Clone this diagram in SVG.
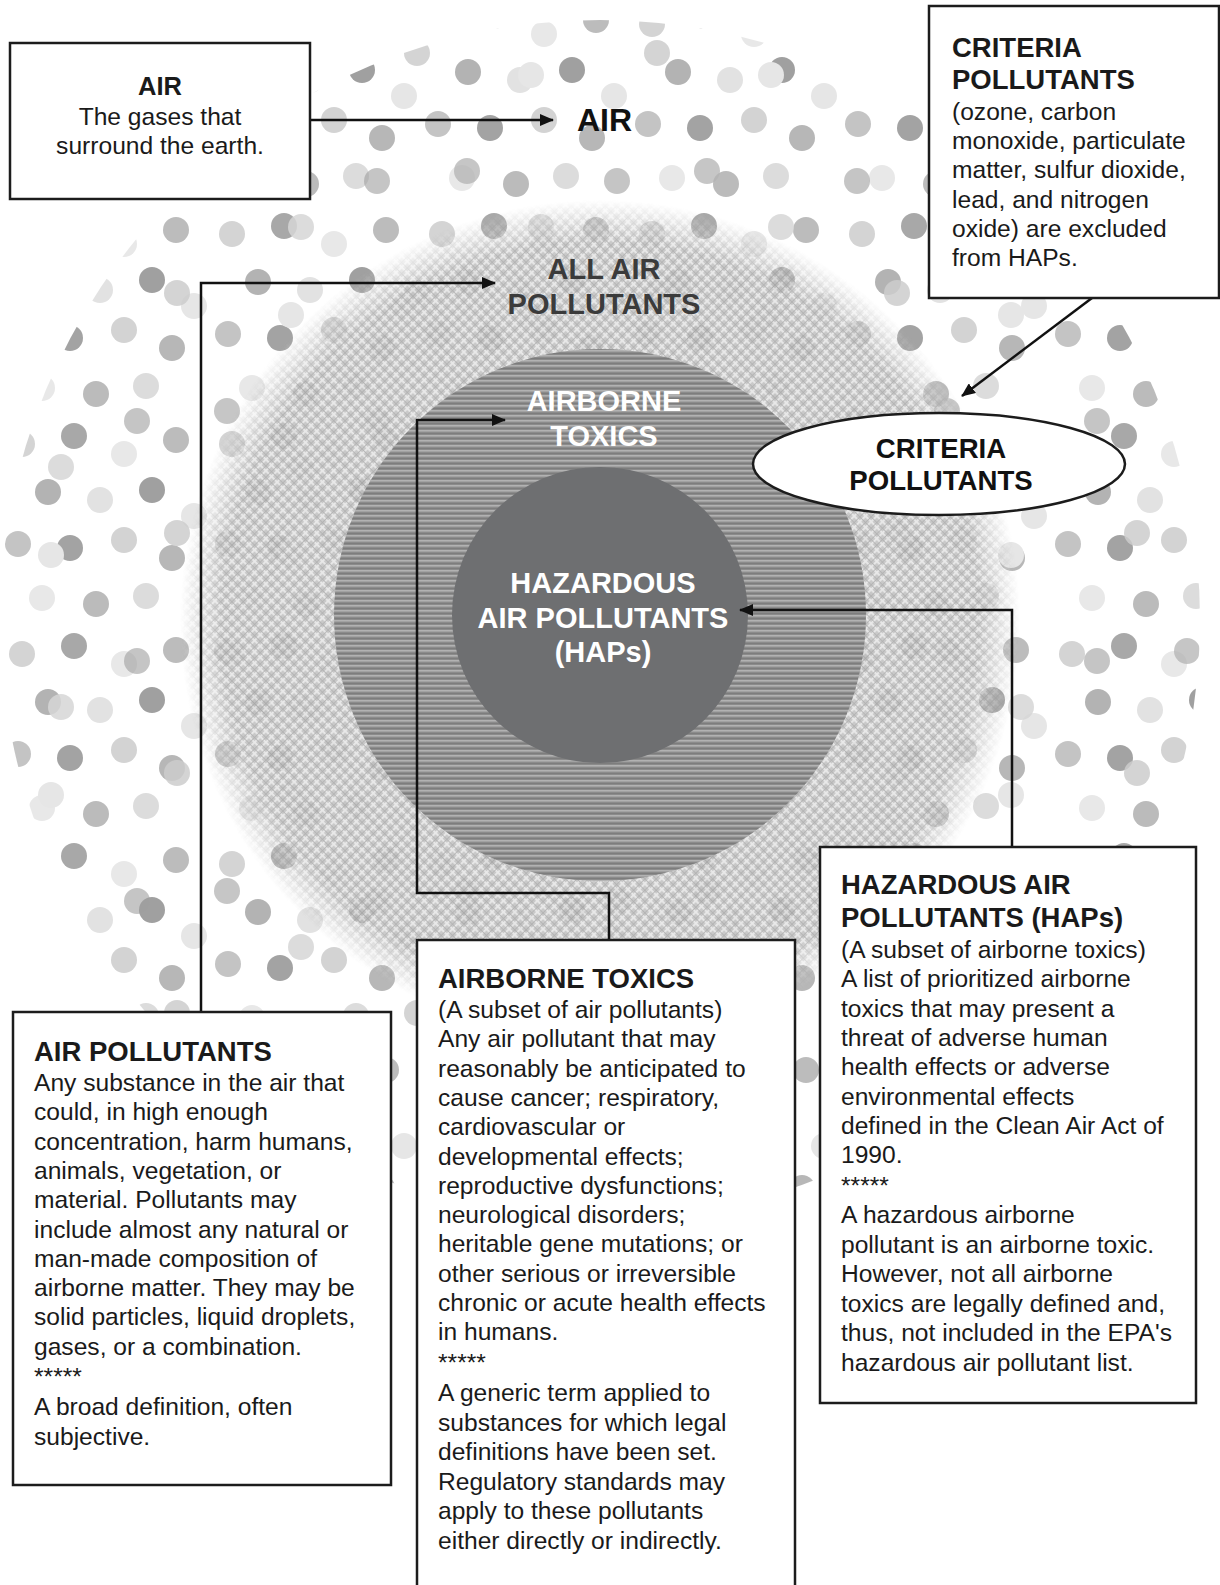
<svg xmlns="http://www.w3.org/2000/svg" width="1220" height="1585" viewBox="0 0 1220 1585">
<style>
.box{fill:#fff;stroke:#1c1c1c;stroke-width:2.5}
.t{font-family:"Liberation Sans",Arial,Helvetica,sans-serif;font-size:24.6px;fill:#1a1a1a}
.h{font-weight:bold;font-size:27.5px}
.lbl{font-family:"Liberation Sans",Arial,Helvetica,sans-serif;font-weight:bold;font-size:29px;text-anchor:middle}
.conn{fill:none;stroke:#111;stroke-width:2.5}
</style>
<defs>
<pattern id="dotsA" width="210" height="210" patternUnits="userSpaceOnUse">
<circle cx="22" cy="24" r="13" fill="#d4d4d4"/>
<circle cx="74" cy="16" r="13" fill="#a8a8a8"/>
<circle cx="124" cy="34" r="13" fill="#e8e8e8"/>
<circle cx="176" cy="20" r="13" fill="#bcbcbc"/>
<circle cx="48" cy="72" r="13" fill="#b3b3b3"/>
<circle cx="100" cy="80" r="13" fill="#e2e2e2"/>
<circle cx="152" cy="70" r="13" fill="#a0a0a0"/>
<circle cx="194" cy="96" r="13" fill="#e6e6e6"/>
<circle cx="18" cy="124" r="13" fill="#c4c4c4"/>
<circle cx="70" cy="128" r="13" fill="#a3a3a3"/>
<circle cx="124" cy="120" r="13" fill="#d3d3d3"/>
<circle cx="172" cy="138" r="13" fill="#b7b7b7"/>
<circle cx="42" cy="178" r="13" fill="#e8e8e8"/>
<circle cx="96" cy="184" r="13" fill="#bbbbbb"/>
<circle cx="146" cy="176" r="13" fill="#dcdcdc"/>
</pattern>
<pattern id="dotsB" x="17" y="31" width="240" height="240" patternUnits="userSpaceOnUse">
<circle cx="34" cy="44" r="13" fill="#e6e6e6"/>
<circle cx="160" cy="22" r="13" fill="#cdcdcd" fill-opacity="0.85"/>
<circle cx="210" cy="140" r="13" fill="#b2b2b2" fill-opacity="0.75"/>
<circle cx="44" cy="196" r="13" fill="#d6d6d6" fill-opacity="0.85"/>
<circle cx="120" cy="150" r="13" fill="#9e9e9e" fill-opacity="0.6"/>
</pattern>
<pattern id="hatch" width="8" height="8" patternUnits="userSpaceOnUse" patternTransform="rotate(45)">
<rect width="8" height="8" fill="#c2c2c2"/>
<rect width="8" height="1.8" fill="#e6e6e6"/>
<rect width="1.8" height="8" fill="#e6e6e6"/>
<rect y="5" width="8" height="0.8" fill="#a6a6a6"/>
<rect x="5" width="0.8" height="8" fill="#a6a6a6"/>
</pattern>
<pattern id="lines" width="9" height="5" patternUnits="userSpaceOnUse">
<rect width="9" height="5" fill="#8b8b8b"/>
<rect width="9" height="1.6" fill="#b2b2b2"/>
<rect y="3" width="9" height="0.8" fill="#7a7a7a"/>
</pattern>
<radialGradient id="fade" cx="600" cy="620" r="420" gradientUnits="userSpaceOnUse">
<stop offset="0.9" stop-color="#fff"/>
<stop offset="1" stop-color="#000"/>
</radialGradient>
<mask id="fadeMask"><circle cx="600" cy="620" r="420" fill="url(#fade)"/></mask>
<clipPath id="outerClip"><circle cx="600" cy="620" r="600"/></clipPath>
<marker id="arr" viewBox="0 0 14 12" refX="13" refY="6" markerWidth="14" markerHeight="12" markerUnits="userSpaceOnUse" orient="auto">
<path d="M0,0 L14,6 L0,12 z" fill="#111"/>
</marker>
</defs>
<rect width="1220" height="1585" fill="#fff"/>

<g id="air-region" clip-path="url(#outerClip)">
<rect x="0" y="0" width="1220" height="1240" fill="url(#dotsA)"/>
<rect x="0" y="0" width="1220" height="1240" fill="url(#dotsB)"/>
</g>
<g id="all-air-pollutants" mask="url(#fadeMask)">
<circle cx="600" cy="620" r="420" fill="url(#hatch)" fill-opacity="0.88"/>
</g>
<g id="airborne-toxics">
<circle cx="600" cy="615" r="266" fill="url(#lines)"/>
</g>
<g id="haps">
<circle cx="600" cy="615" r="148" fill="#6e6f71"/>
</g>

<g id="region-labels">
<text class="lbl" x="577" y="131" style="text-anchor:start;font-size:32px" fill="#111">AIR</text>
<text class="lbl" fill="#3b3b3b"><tspan x="604" y="279">ALL AIR</tspan><tspan x="604" y="314">POLLUTANTS</tspan></text>
<text class="lbl" fill="#fff"><tspan x="604" y="411">AIRBORNE</tspan><tspan x="604" y="446">TOXICS</tspan></text>
<text class="lbl" fill="#fff"><tspan x="603" y="593">HAZARDOUS</tspan><tspan x="603" y="628">AIR POLLUTANTS</tspan><tspan x="603" y="662">(HAPs)</tspan></text>
</g>

<g id="connectors">
<path class="conn" d="M310,120 H553" marker-end="url(#arr)"/>
<path class="conn" d="M1092,298 L962,396" marker-end="url(#arr)"/>
<path class="conn" d="M201,1012 V283 H495" marker-end="url(#arr)"/>
<path class="conn" d="M609,940 V893 H417 V420 H505" marker-end="url(#arr)"/>
<path class="conn" d="M1012,847 V610 H740" marker-end="url(#arr)"/>
</g>

<g id="node-air">
<rect class="box" x="10" y="43" width="300" height="156"/>
<text class="t" text-anchor="middle"><tspan x="160" y="95" style="font-weight:bold;font-size:25.5px">AIR</tspan><tspan x="160" y="125">The gases that</tspan><tspan x="160" y="154">surround the earth.</tspan></text>
</g>

<g id="node-criteria-box">
<rect class="box" x="929" y="6" width="290" height="292"/>
<text class="t"><tspan class="h" x="952" y="57">CRITERIA</tspan><tspan class="h" x="952" y="89">POLLUTANTS</tspan><tspan x="952" y="120">(ozone, carbon</tspan><tspan x="952" y="149">monoxide, particulate</tspan><tspan x="952" y="178">matter, sulfur dioxide,</tspan><tspan x="952" y="208">lead, and nitrogen</tspan><tspan x="952" y="237">oxide) are excluded</tspan><tspan x="952" y="266">from HAPs.</tspan></text>
</g>

<g id="node-criteria-ellipse">
<ellipse class="box" cx="939" cy="464" rx="186" ry="51"/>
<text class="lbl" fill="#111" style="font-size:27.6px"><tspan x="941" y="458">CRITERIA</tspan><tspan x="941" y="490">POLLUTANTS</tspan></text>
</g>

<g id="node-air-pollutants">
<rect class="box" x="13" y="1012" width="378" height="473"/>
<text class="t"><tspan class="h" x="34" y="1061">AIR POLLUTANTS</tspan><tspan x="34" y="1091">Any substance in the air that</tspan><tspan x="34" y="1120.3">could, in high enough</tspan><tspan x="34" y="1149.6">concentration, harm humans,</tspan><tspan x="34" y="1178.9">animals, vegetation, or</tspan><tspan x="34" y="1208.2">material. Pollutants may</tspan><tspan x="34" y="1237.5">include almost any natural or</tspan><tspan x="34" y="1266.8">man-made composition of</tspan><tspan x="34" y="1296.1">airborne matter. They may be</tspan><tspan x="34" y="1325.4">solid particles, liquid droplets,</tspan><tspan x="34" y="1354.7">gases, or a combination.</tspan><tspan x="34" y="1385">*****</tspan><tspan x="34" y="1415">A broad definition, often</tspan><tspan x="34" y="1444.5">subjective.</tspan></text>
</g>

<g id="node-airborne-toxics">
<rect class="box" x="417" y="940" width="378" height="660"/>
<text class="t"><tspan class="h" x="438" y="988">AIRBORNE TOXICS</tspan><tspan x="438" y="1018">(A subset of air pollutants)</tspan><tspan x="438" y="1047.3">Any air pollutant that may</tspan><tspan x="438" y="1076.6">reasonably be anticipated to</tspan><tspan x="438" y="1105.9">cause cancer; respiratory,</tspan><tspan x="438" y="1135.2">cardiovascular or</tspan><tspan x="438" y="1164.5">developmental effects;</tspan><tspan x="438" y="1193.8">reproductive dysfunctions;</tspan><tspan x="438" y="1223.1">neurological disorders;</tspan><tspan x="438" y="1252.4">heritable gene mutations; or</tspan><tspan x="438" y="1281.7">other serious or irreversible</tspan><tspan x="438" y="1311">chronic or acute health effects</tspan><tspan x="438" y="1340.3">in humans.</tspan><tspan x="438" y="1371">*****</tspan><tspan x="438" y="1401">A generic term applied to</tspan><tspan x="438" y="1430.5">substances for which legal</tspan><tspan x="438" y="1460">definitions have been set.</tspan><tspan x="438" y="1489.5">Regulatory standards may</tspan><tspan x="438" y="1519">apply to these pollutants</tspan><tspan x="438" y="1548.5">either directly or indirectly.</tspan></text>
</g>

<g id="node-haps">
<rect class="box" x="820" y="847" width="376" height="556"/>
<text class="t"><tspan class="h" x="841" y="894">HAZARDOUS AIR</tspan><tspan class="h" x="841" y="927">POLLUTANTS (HAPs)</tspan><tspan x="841" y="958">(A subset of airborne toxics)</tspan><tspan x="841" y="987.3">A list of prioritized airborne</tspan><tspan x="841" y="1016.6">toxics that may present a</tspan><tspan x="841" y="1045.9">threat of adverse human</tspan><tspan x="841" y="1075.2">health effects or adverse</tspan><tspan x="841" y="1104.5">environmental effects</tspan><tspan x="841" y="1133.8">defined in the Clean Air Act of</tspan><tspan x="841" y="1163.1">1990.</tspan><tspan x="841" y="1194">*****</tspan><tspan x="841" y="1223">A hazardous airborne</tspan><tspan x="841" y="1252.5">pollutant is an airborne toxic.</tspan><tspan x="841" y="1282">However, not all airborne</tspan><tspan x="841" y="1311.5">toxics are legally defined and,</tspan><tspan x="841" y="1341">thus, not included in the EPA's</tspan><tspan x="841" y="1370.5">hazardous air pollutant list.</tspan></text>
</g>
</svg>
